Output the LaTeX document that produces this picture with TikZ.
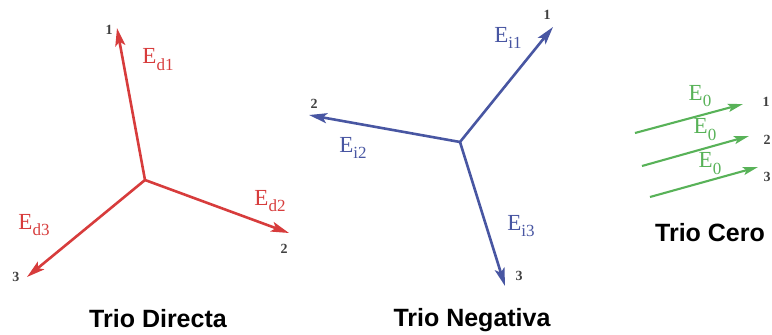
\documentclass[tikz,border=0pt]{standalone}
\usepackage{fontspec}
\setmainfont{Liberation Serif}
\newfontfamily\arialb{Liberation Sans}
\usetikzlibrary{arrows.meta}
\definecolor{rd}{RGB}{215,60,60}
\definecolor{bl}{RGB}{72,86,162}
\definecolor{gr}{RGB}{88,178,88}
\newcommand{\Elab}[1]{E\raisebox{-0.3em}{\fontsize{17}{17}\selectfont #1}}
\begin{document}
\begin{tikzpicture}[x=1pt,y=-1pt,
  vec/.style={line width=2.6pt,-{Stealth[length=18pt,width=10pt,inset=4pt]}},
  gvec/.style={line width=2.1pt,-{Stealth[length=15pt,width=8pt,inset=3pt]}},
  elab/.style={font=\fontsize{23}{23}\selectfont, inner sep=0pt},
  num/.style={font=\bfseries\fontsize{14}{14}\selectfont, text=black!75, inner sep=0pt},
  ttl/.style={font=\arialb\bfseries\fontsize{25}{25}\selectfont, inner sep=0pt}]
\useasboundingbox (0,0) rectangle (772,335);
% Trio directa
\coordinate (Od) at (145,180);
\coordinate (d1) at (117,28);
\coordinate (d2) at (289,233);
\coordinate (d3) at (27,277);
\draw[vec,rd] (Od) -- (d1);
\draw[vec,rd] (Od) -- (d2);
\draw[vec,rd] (Od) -- (d3);
\node[num] (nd1) at (109,30) {1};
\node[num] (nd2) at (284,249) {2};
\node[num] (nd3) at (16,277) {3};
\node[elab,text=rd] (ed1) at (158,60) {\Elab{d1}};
\node[elab,text=rd] (ed2) at (270,201) {\Elab{d2}};
\node[elab,text=rd] (ed3) at (34,225) {\Elab{d3}};
\node[ttl] (td) at (158,319) {Trio Directa};
% Trio negativa
\coordinate (Oi) at (460,142);
\coordinate (i1) at (553,27);
\coordinate (i2) at (309,115);
\coordinate (i3) at (505,286);
\draw[vec,bl] (Oi) -- (i1);
\draw[vec,bl] (Oi) -- (i2);
\draw[vec,bl] (Oi) -- (i3);
\node[num] (ni1) at (547,15) {1};
\node[num] (ni2) at (314,104) {2};
\node[num] (ni3) at (519,276) {3};
\node[elab,text=bl] (ei1) at (508,38) {\Elab{i1}};
\node[elab,text=bl] (ei2) at (353,148) {\Elab{i2}};
\node[elab,text=bl] (ei3) at (521,226) {\Elab{i3}};
\node[ttl] (ti) at (472,320) {Trio Negativa};
% Trio cero
\coordinate (a1) at (635,133);
\coordinate (b1) at (743,104);
\coordinate (a2) at (642,166);
\coordinate (b2) at (749,136);
\coordinate (a3) at (650,197);
\coordinate (b3) at (758,167);
\draw[gvec,gr] (a1) -- (b1);
\draw[gvec,gr] (a2) -- (b2);
\draw[gvec,gr] (a3) -- (b3);
\node[elab,text=gr] (e01) at (700,96) {\Elab{0}};
\node[elab,text=gr] (e02) at (705,130) {\Elab{0}};
\node[elab,text=gr] (e03) at (710,164) {\Elab{0}};
\node[num] (n01) at (766,102) {1};
\node[num] (n02) at (767,140) {2};
\node[num] (n03) at (767,177) {3};
\node[ttl] (tc) at (710,233) {Trio Cero};
\end{tikzpicture}
\end{document}
